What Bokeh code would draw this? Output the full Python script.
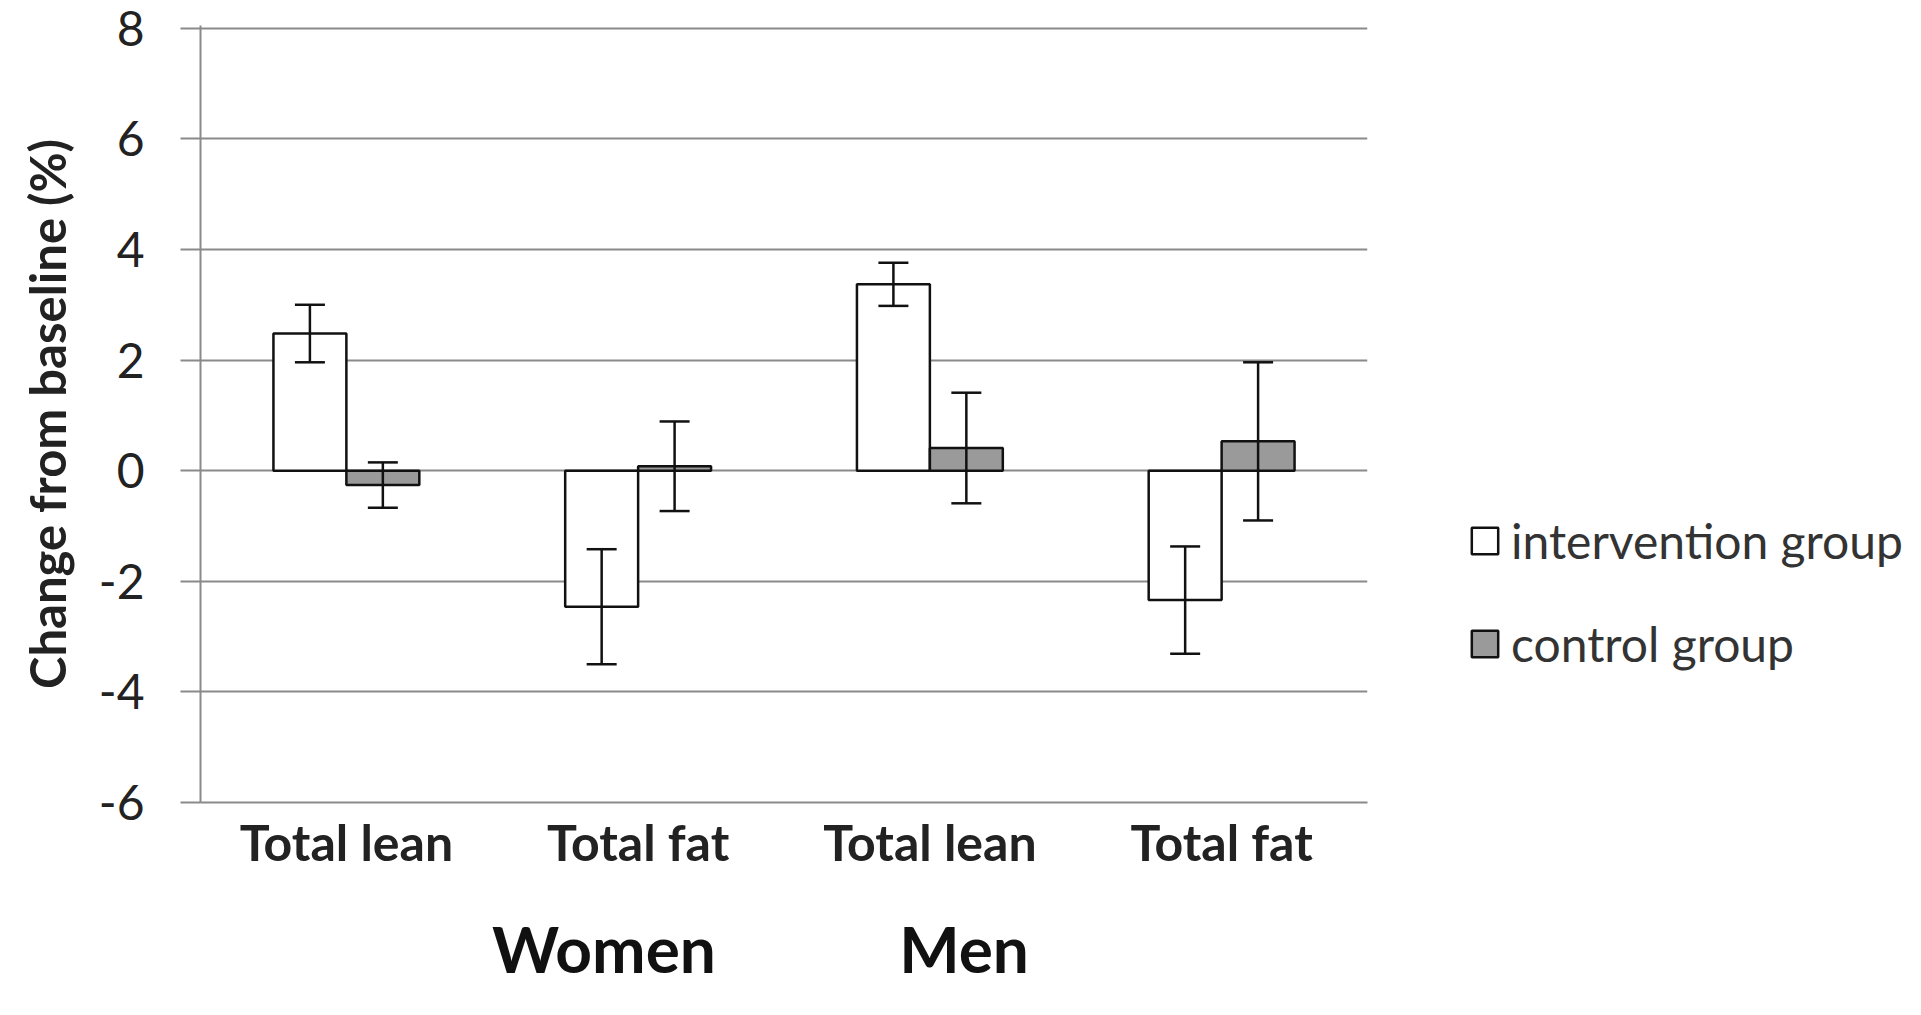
from bokeh.plotting import figure
from bokeh.layouts import row
from bokeh.models import (FactorRange, Range1d, ColumnDataSource, Whisker, TeeHead,
                          Legend, LegendItem, FixedTicker, CategoricalAxis,
                          PrintfTickFormatter)
from bokeh.transform import dodge
from bokeh.embed import file_html
from bokeh.resources import INLINE

# ---- data ----
groups = ["Women", "Women", "Men", "Men"]
measures = ["Total lean", "Total fat", "Total lean", "Total fat"]
intervention = [2.48, -2.46, 3.37, -2.34]
intervention_err = [0.52, 1.04, 0.39, 0.97]
control = [-0.26, 0.08, 0.41, 0.53]
control_err = [0.41, 0.81, 1.00, 1.43]
y_ticks = [-6, -4, -2, 0, 2, 4, 6, 8]
series_names = ["intervention group", "control group"]
group_labels = ["Women", "Men"]

# unique category keys (a zero-width space keeps the men's labels distinct but identical-looking)
cats = [m if g == "Women" else m + "\u200b" for g, m in zip(groups, measures)]

src = ColumnDataSource(dict(
    x=cats,
    inter=intervention,
    inter_up=[v + e for v, e in zip(intervention, intervention_err)],
    inter_lo=[v - e for v, e in zip(intervention, intervention_err)],
    ctrl=control,
    ctrl_up=[v + e for v, e in zip(control, control_err)],
    ctrl_lo=[v - e for v, e in zip(control, control_err)],
))

GRID = "#8a8a8a"
FONT = "Lato"
INK = "#111111"

p = figure(width=1372, height=999,
           x_range=FactorRange(*cats, factor_padding=0, range_padding=0),
           y_range=Range1d(-6, 8.05),
           output_backend="svg", toolbar_location=None,
           min_border_left=200, min_border_right=5,
           min_border_top=25, min_border_bottom=197)
p.outline_line_color = None

bw = 0.25
bar_inter = dict(fill_color="white", line_color=INK, line_width=2.5)
bar_ctrl = dict(fill_color="#9a9a9a", line_color=INK, line_width=2.5)
p.vbar(x=dodge("x", -bw / 2, range=p.x_range), top="inter", bottom=0, width=bw,
       source=src, **bar_inter)
p.vbar(x=dodge("x", bw / 2, range=p.x_range), top="ctrl", bottom=0, width=bw,
       source=src, **bar_ctrl)

for off, up, lo in [(-bw / 2, "inter_up", "inter_lo"), (bw / 2, "ctrl_up", "ctrl_lo")]:
    w = Whisker(source=src, base=dodge("x", off, range=p.x_range), upper=up, lower=lo,
                line_color=INK, line_width=2.5,
                upper_head=TeeHead(size=30, line_color=INK, line_width=2.5),
                lower_head=TeeHead(size=30, line_color=INK, line_width=2.5),
                level="overlay")
    p.add_layout(w)

# grid & axes
p.xgrid.grid_line_color = None
p.ygrid.grid_line_color = GRID
p.ygrid.grid_line_width = 2
p.yaxis.ticker = FixedTicker(ticks=y_ticks)
p.yaxis.formatter = PrintfTickFormatter(format="%d")
p.yaxis.axis_line_color = GRID
p.yaxis.axis_line_width = 2
p.yaxis.major_tick_line_color = GRID
p.yaxis.major_tick_line_width = 2
p.yaxis.major_tick_out = 20
p.yaxis.major_tick_in = 0
p.yaxis.minor_tick_line_color = None
p.yaxis.major_label_text_font = FONT
p.yaxis.major_label_text_font_size = "48px"
p.yaxis.major_label_text_color = "#222222"
p.yaxis.major_label_standoff = 36
p.yaxis.axis_label = "Change from baseline (%)"
p.yaxis.axis_label_text_font = FONT
p.yaxis.axis_label_text_font_style = "bold"
p.yaxis.axis_label_text_font_size = "49px"
p.yaxis.axis_label_text_color = "#222222"
p.yaxis.axis_label_standoff = 20

p.xaxis.axis_line_color = GRID
p.xaxis.axis_line_width = 2
p.xaxis.major_tick_line_color = None
p.xaxis.minor_tick_line_color = None
p.xaxis.major_label_text_font = FONT
p.xaxis.major_label_text_font_style = "bold"
p.xaxis.major_label_text_font_size = "50px"
p.xaxis.major_label_text_color = "#222222"
p.xaxis.major_label_standoff = 3

# second row of labels: Women / Men
p.extra_x_ranges = {"grp": FactorRange(*group_labels, range_padding=0.62,
                                       range_padding_units="absolute")}
gax = CategoricalAxis(x_range_name="grp")
gax.axis_line_color = None
gax.major_tick_line_color = None
gax.minor_tick_line_color = None
gax.major_label_text_font = FONT
gax.major_label_text_font_style = "bold"
gax.major_label_text_font_size = "64px"
gax.major_label_text_color = INK
gax.major_label_standoff = 29
p.add_layout(gax, "below")

# legend in its own panel on the right (its frame is aligned with the main frame)
nan = float("nan")
p2 = figure(width=533, height=999, x_range=Range1d(0, 1), y_range=Range1d(0, 1),
            output_backend="svg", toolbar_location=None,
            x_axis_location=None, y_axis_location=None,
            min_border_left=0, min_border_right=0, min_border_top=0, min_border_bottom=0)
p2.outline_line_color = None
p2.grid.grid_line_color = None
l1 = p2.vbar(x=[0.5], top=[nan], bottom=[nan], width=0.1, **bar_inter)
l2 = p2.vbar(x=[0.5], top=[nan], bottom=[nan], width=0.1, **bar_ctrl)
legend = Legend(items=[LegendItem(label=series_names[0], renderers=[l1]),
                       LegendItem(label=series_names[1], renderers=[l2])],
                location=(96, 130), glyph_width=33, glyph_height=33,
                label_text_font=FONT, label_text_font_size="48px",
                label_text_color="#333333", label_standoff=10, spacing=46,
                padding=0, margin=0, border_line_color=None,
                background_fill_alpha=0)
p2.add_layout(legend)

layout = row(p, p2, spacing=0)
open("out.html", "w").write(file_html(layout, INLINE))
